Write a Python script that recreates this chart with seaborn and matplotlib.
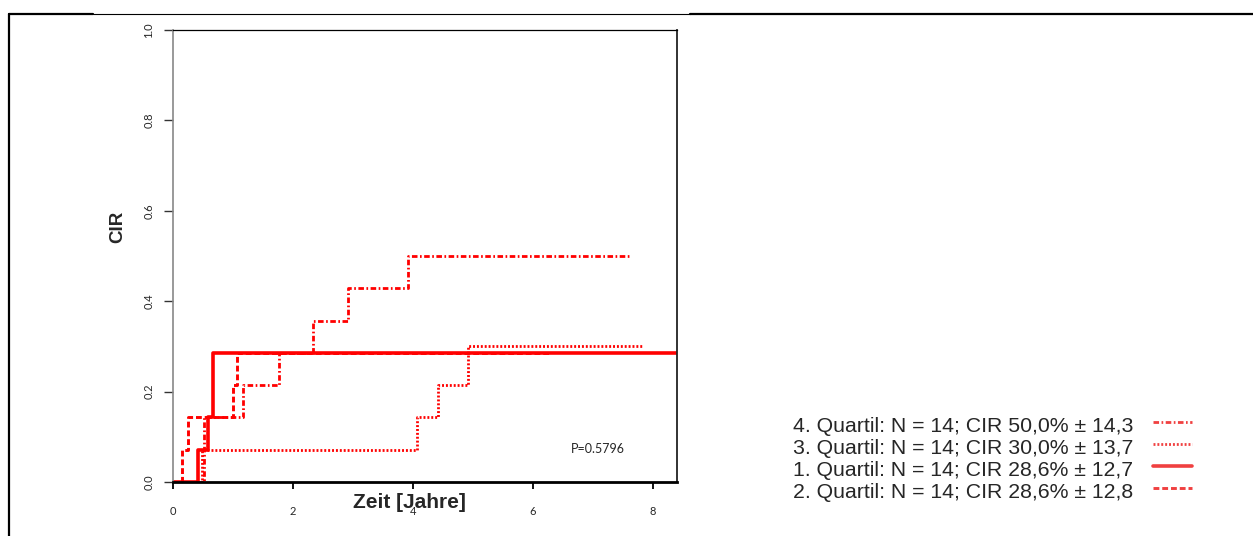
import matplotlib
matplotlib.use("Agg")
import matplotlib.pyplot as plt
import seaborn as sns
import numpy as np
import pandas as pd
from matplotlib.lines import Line2D

# ---- data ----
q4_t = [0, 0.52, 1.17, 1.76, 2.33, 2.92, 3.92, 7.63]
q4_cir = [0, 0.143, 0.214, 0.286, 0.357, 0.429, 0.500, 0.500]
q3_t = [0, 0.49, 4.07, 4.41, 4.91, 7.81]
q3_cir = [0, 0.071, 0.143, 0.214, 0.300, 0.300]
q1_t = [0, 0.41, 0.58, 0.66, 8.6]
q1_cir = [0, 0.071, 0.143, 0.286, 0.286]
q2_t = [0, 0.155, 0.245, 1.00, 1.07, 6.28]
q2_cir = [0, 0.071, 0.143, 0.214, 0.286, 0.286]

labels = [
    "4. Quartil: N = 14; CIR 50,0% ± 14,3",
    "3. Quartil: N = 14; CIR 30,0% ± 13,7",
    "1. Quartil: N = 14; CIR 28,6% ± 12,7",
    "2. Quartil: N = 14; CIR 28,6% ± 12,8",
]
x_ticks = [0, 2, 4, 6, 8]
y_ticks = [0.0, 0.2, 0.4, 0.6, 0.8, 1.0]
p_text = "P=0.5796"

sns.set_style("white")
plt.rcParams['font.family'] = ['Liberation Sans', 'DejaVu Sans']

W, H = 1253, 536
fig = plt.figure(figsize=(W/100, H/100), dpi=100)
ax = fig.add_axes([173/W, 1-482/H, (677-173)/W, (482-30)/H])

red = "#ff0000"
series = [
    (q4_t, q4_cir, (0, (2.0, 0.9, 0.6, 0.9)), 2.0),
    (q3_t, q3_cir, (0, (0.7, 0.7)), 2.0),
    (q1_t, q1_cir, "-", 2.6),
    (q2_t, q2_cir, (0, (2.0, 1.0)), 2.1),
]
for (t, c, ls, lw), lab in zip(series, labels):
    df = pd.DataFrame({"t": t, "cir": c})
    sns.lineplot(data=df, x="t", y="cir", ax=ax, color=red, linestyle=ls,
                 linewidth=lw, drawstyle="steps-post", estimator=None,
                 sort=False, legend=False)

ax.set_xlim(0, 8.4)
ax.set_ylim(0, 1)
ax.set_xticks(x_ticks)
ax.set_xticklabels([str(v) for v in x_ticks], fontfamily="Lato", fontsize=8)
ax.set_yticks(y_ticks)
ax.set_yticklabels([f"{v:.1f}" for v in y_ticks], rotation=90, va="center",
                   fontfamily="Lato", fontsize=8)
ax.tick_params(axis="y", length=6.5, width=1.0, color="#333333", pad=7, direction="out", left=True)
ax.tick_params(axis="x", length=5, width=1.3, color="black", pad=12, direction="out", bottom=True)

for s in ["left", "right", "top", "bottom"]:
    ax.spines[s].set_visible(True)
ax.spines["left"].set_color("#888888"); ax.spines["left"].set_linewidth(1.2)
ax.spines["bottom"].set_color("black"); ax.spines["bottom"].set_linewidth(2.0)
ax.spines["top"].set_color("black"); ax.spines["top"].set_linewidth(0.9)
ax.spines["right"].set_color("#222222"); ax.spines["right"].set_linewidth(1.3)

ax.set_xlabel("Zeit [Jahre]", fontsize=15, fontweight="bold", va="center", ha="center")
ax.xaxis.set_label_coords((409-173)/504, (482-503)/452)
ax.set_ylabel("CIR", fontsize=13.5, fontweight="bold", va="center", ha="center")
ax.yaxis.set_label_coords((118-173)/504, (482-227)/452)

ax.text((598-173)/504*8.4, (482-449)/452, p_text, fontfamily="Lato", fontsize=9,
        ha="center", va="center")

# legend: text on the left, line sample on the right
for i, ((t, c, ls, lw), lab) in enumerate(zip(series, labels)):
    yc = 426 + i * 22.3
    fig.text(793/W, 1 - yc/H, lab, fontsize=15.3, ha="left", va="center")
    fig.add_artist(Line2D([1153/W, 1192/W], [1-(yc-4.5)/H, 1-(yc-4.5)/H], color="#f04040",
                          linestyle=ls, linewidth=lw, transform=fig.transFigure))

# outer frame lines
fig.add_artist(Line2D([9/W, 93/W], [1-14/H, 1-14/H], color="black", lw=1.6, transform=fig.transFigure))
fig.add_artist(Line2D([93/W, 690/W], [1-14/H, 1-14/H], color="black", lw=0.8, transform=fig.transFigure))
fig.add_artist(Line2D([690/W, 1.0], [1-14/H, 1-14/H], color="black", lw=1.6, transform=fig.transFigure))
fig.add_artist(Line2D([9/W, 9/W], [0, 1-14/H], color="black", lw=1.6, transform=fig.transFigure))

fig.savefig("out.png", dpi=100)
